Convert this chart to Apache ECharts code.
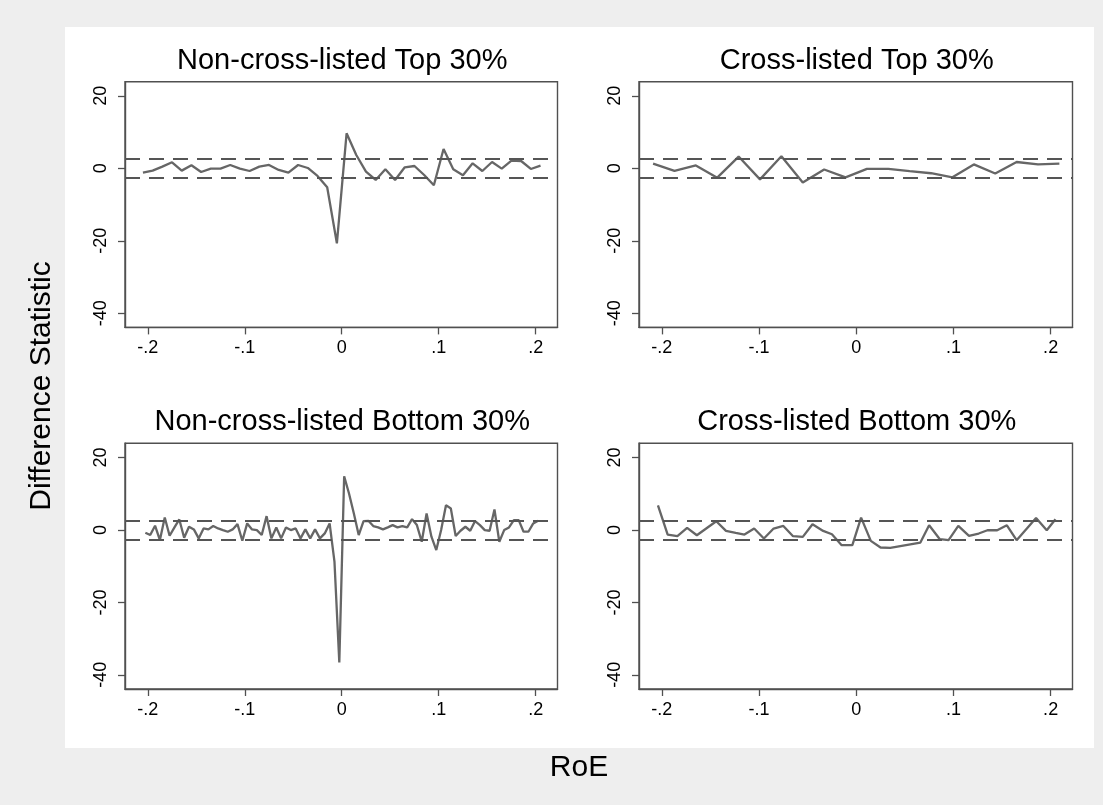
<!DOCTYPE html>
<html>
<head>
<meta charset="utf-8">
<script src="https://cdn.jsdelivr.net/npm/echarts@6/dist/echarts.min.js"></script>
<style>
  html, body { margin: 0; padding: 0; background: #eeeeee; }
  #chart { width: 1103px; height: 805px; }
</style>
</head>
<body>
<div id="chart"></div>
<script>
// Panel titles
const panelTitles = [
  'Non-cross-listed Top 30%',
  'Cross-listed Top 30%',
  'Non-cross-listed Bottom 30%',
  'Cross-listed Bottom 30%'
];

// Axis ticks and labels
const xTickValues = [-0.2, -0.1, 0, 0.1, 0.2];
const xTickLabels = ['-.2', '-.1', '0', '.1', '.2'];
const yTickValues = [-40, -20, 0, 20];
const yTickLabels = ['-40', '-20', '0', '20'];

// Critical bands drawn as dashed reference lines
const criticalBand = [2.58, -2.58];

// Non-cross-listed, top 30%
const ncTopX = [-0.205, -0.195, -0.185, -0.175, -0.165, -0.155, -0.145, -0.135, -0.125, -0.115,
  -0.105, -0.095, -0.085, -0.075, -0.065, -0.055, -0.045, -0.035, -0.025, -0.015, -0.005,
  0.005, 0.015, 0.025, 0.035, 0.045, 0.055, 0.065, 0.075, 0.085, 0.095,
  0.105, 0.115, 0.125, 0.135, 0.145, 0.155, 0.165, 0.175, 0.185, 0.195, 0.205];
const ncTopY = [-1.20, -0.64, 0.46, 1.66, -0.64, 0.83, -1.01, -0.09, -0.09, 0.92,
  -0.09, -0.74, 0.46, 0.92, -0.46, -1.20, 0.92, 0.09, -2.11, -5.24, -20.69,
  9.66, 3.68, -0.92, -3.22, -0.28, -3.22, 0.28, 0.64, -1.84, -4.69,
  5.33, -0.28, -1.93, 1.38, -0.74, 1.75, -0.09, 2.11, 2.02, -0.18, 0.74];

// Cross-listed, top 30%
const clTopX = [-0.209, -0.187, -0.165, -0.143, -0.121, -0.099, -0.077, -0.055, -0.033, -0.011,
  0.011, 0.033, 0.055, 0.077, 0.099, 0.121, 0.143, 0.165, 0.187, 0.209];
const clTopY = [1.27, -0.70, 0.80, -2.58, 3.24, -3.05, 3.33, -3.89, -0.33, -2.49,
  -0.14, -0.14, -0.80, -1.36, -2.49, 1.08, -1.45, 1.74, 1.08, 1.27];

// Non-cross-listed, bottom 30%
const ncBotX = [-0.2025, -0.1975, -0.1925, -0.1875, -0.1825, -0.1775, -0.1725, -0.1675, -0.1625, -0.1575,
  -0.1525, -0.1475, -0.1425, -0.1375, -0.1325, -0.1275, -0.1225, -0.1175, -0.1125, -0.1075,
  -0.1025, -0.0975, -0.0925, -0.0875, -0.0825, -0.0775, -0.0725, -0.0675, -0.0625, -0.0575,
  -0.0525, -0.0475, -0.0425, -0.0375, -0.0325, -0.0275, -0.0225, -0.0175, -0.0125, -0.0075,
  -0.0025, 0.0025, 0.0075, 0.0125, 0.0175, 0.0225, 0.0275, 0.0325, 0.0375, 0.0425,
  0.0475, 0.0525, 0.0575, 0.0625, 0.0675, 0.0725, 0.0775, 0.0825, 0.0875, 0.0925,
  0.0975, 0.1025, 0.1075, 0.1125, 0.1175, 0.1225, 0.1275, 0.1325, 0.1375, 0.1425,
  0.1475, 0.1525, 0.1575, 0.1625, 0.1675, 0.1725, 0.1775, 0.1825, 0.1875, 0.1925,
  0.1975, 0.2025];
const ncBotY = [-0.78, -1.42, 1.15, -2.80, 3.44, -1.60, 0.69, 2.89, -2.16, 0.87,
  0.14, -2.34, 0.41, 0.14, 1.06, 0.41, -0.05, -0.50, 0.14, 1.60,
  -2.98, 1.79, 0.14, -0.05, -1.42, 3.80, -2.34, 0.69, -2.34, 0.69,
  -0.05, 0.41, -2.34, 0.14, -2.34, 0.14, -2.34, -0.96, 1.79, -8.76,
  -36.57, 14.82, 10.05, 4.54, -1.42, 2.43, 2.52, 1.06, 0.69, 0.14,
  0.69, 1.33, 0.69, 1.06, 0.69, 2.98, 1.33, -3.26, 4.54, -1.88,
  -5.55, -0.05, 6.83, 5.92, -1.70, -0.23, 0.87, -0.23, 2.43, 1.33,
  -0.05, -0.23, 5.64, -3.26, -0.05, 0.69, 2.70, 2.70, -0.50, -0.50,
  1.79, 2.52];

// Cross-listed, bottom 30%
const clBotX = [-0.204, -0.194, -0.184, -0.174, -0.164, -0.154, -0.144, -0.134, -0.124, -0.115,
  -0.105, -0.095, -0.085, -0.075, -0.065, -0.055, -0.045, -0.034, -0.025, -0.015,
  -0.004, 0.005, 0.015, 0.025, 0.035, 0.066, 0.075, 0.086, 0.095, 0.105,
  0.116, 0.126, 0.135, 0.145, 0.155, 0.165, 0.185, 0.196, 0.205];
const clBotY = [6.79, -1.28, -1.74, 0.55, -1.47, 0.46, 2.39, -0.28, -0.83, -1.28,
  0.37, -2.39, 0.37, 1.10, -1.74, -1.93, 1.56, -0.28, -1.19, -4.22,
  -4.22, 3.39, -3.03, -4.86, -4.95, -3.49, 1.28, -2.57, -2.84, 1.10,
  -1.65, -1.00, -0.09, -0.09, 1.28, -2.84, 3.30, -0.09, 2.94];

const panels = [
  { x: ncTopX, y: ncTopY },
  { x: clTopX, y: clTopY },
  { x: ncBotX, y: ncBotY },
  { x: clBotX, y: clBotY }
];

const FONT = '"Liberation Sans", Arial, Helvetica, sans-serif';
const frameColor = '#505050';
const lineColor = '#666666';

// Plot frames (pixel layout of the 2x2 grid)
const colLeft = [125, 639];
const colWidth = [432.5, 433.5];
const rowTop = [81.7, 443.3];
const rowHeight = 245.7;

const grids = [], xAxes = [], yAxes = [], series = [], texts = [];

panels.forEach((p, i) => {
  const c = i % 2, r = Math.floor(i / 2);
  grids.push({
    left: colLeft[c], top: rowTop[r], width: colWidth[c], height: rowHeight,
    show: true, backgroundColor: '#ffffff', borderColor: frameColor, borderWidth: 1.4,
    containLabel: false
  });
  xAxes.push({
    type: 'value', gridIndex: i, min: -0.2235, max: 0.2225,
    axisLine: { show: true, onZero: false, lineStyle: { color: frameColor, width: 1.4 } },
    axisTick: { show: true, length: 7, customValues: xTickValues, lineStyle: { color: frameColor, width: 1.3 } },
    axisLabel: {
      show: true, customValues: xTickValues, margin: 12,
      fontFamily: FONT, fontSize: 18, color: '#000',
      formatter: v => xTickLabels[xTickValues.findIndex(t => Math.abs(t - v) < 1e-9)]
    },
    splitLine: { show: false }
  });
  yAxes.push({
    type: 'value', gridIndex: i, min: -43.9, max: 23.9,
    axisLine: { show: true, onZero: false, lineStyle: { color: frameColor, width: 1.4 } },
    axisTick: { show: true, length: 7, customValues: yTickValues, lineStyle: { color: frameColor, width: 1.3 } },
    axisLabel: {
      show: true, customValues: yTickValues, rotate: 90, margin: 15,
      fontFamily: FONT, fontSize: 18, color: '#000',
      formatter: v => yTickLabels[yTickValues.findIndex(t => Math.abs(t - v) < 1e-9)]
    },
    splitLine: { show: false }
  });
  series.push({
    type: 'line', xAxisIndex: i, yAxisIndex: i,
    data: p.x.map((xv, k) => [xv, p.y[k]]),
    showSymbol: false, symbol: 'none',
    lineStyle: { color: lineColor, width: 2.3 },
    z: 3,
    markLine: {
      silent: true, symbol: ['none', 'none'],
      label: { show: false },
      lineStyle: { color: '#555555', width: 1.8, type: [15, 9] },
      data: criticalBand.map(v => ({ yAxis: v }))
    }
  });
  texts.push({
    type: 'text', x: colLeft[c] + colWidth[c] / 2 + 1, y: rowTop[r] - 21,
    style: { text: panelTitles[i], font: '29px ' + FONT, fill: '#000', textAlign: 'center', textVerticalAlign: 'middle' }
  });
});

const chart = echarts.init(document.getElementById('chart'), null, { renderer: 'canvas' });
chart.setOption({
  animation: false,
  backgroundColor: '#eeeeee',
  grid: grids,
  xAxis: xAxes,
  yAxis: yAxes,
  series: series,
  graphic: [
    { type: 'rect', z: -10, shape: { x: 65, y: 27, width: 1029, height: 721 }, style: { fill: '#ffffff' } },
    ...texts,
    {
      type: 'text', x: 42, y: 386, rotation: Math.PI / 2,
      style: { text: 'Difference Statistic', font: '30px ' + FONT, fill: '#000', textAlign: 'center', textVerticalAlign: 'middle' }
    },
    {
      type: 'text', x: 579, y: 768,
      style: { text: 'RoE', font: '30px ' + FONT, fill: '#000', textAlign: 'center', textVerticalAlign: 'middle' }
    }
  ]
});
</script>
</body>
</html>
